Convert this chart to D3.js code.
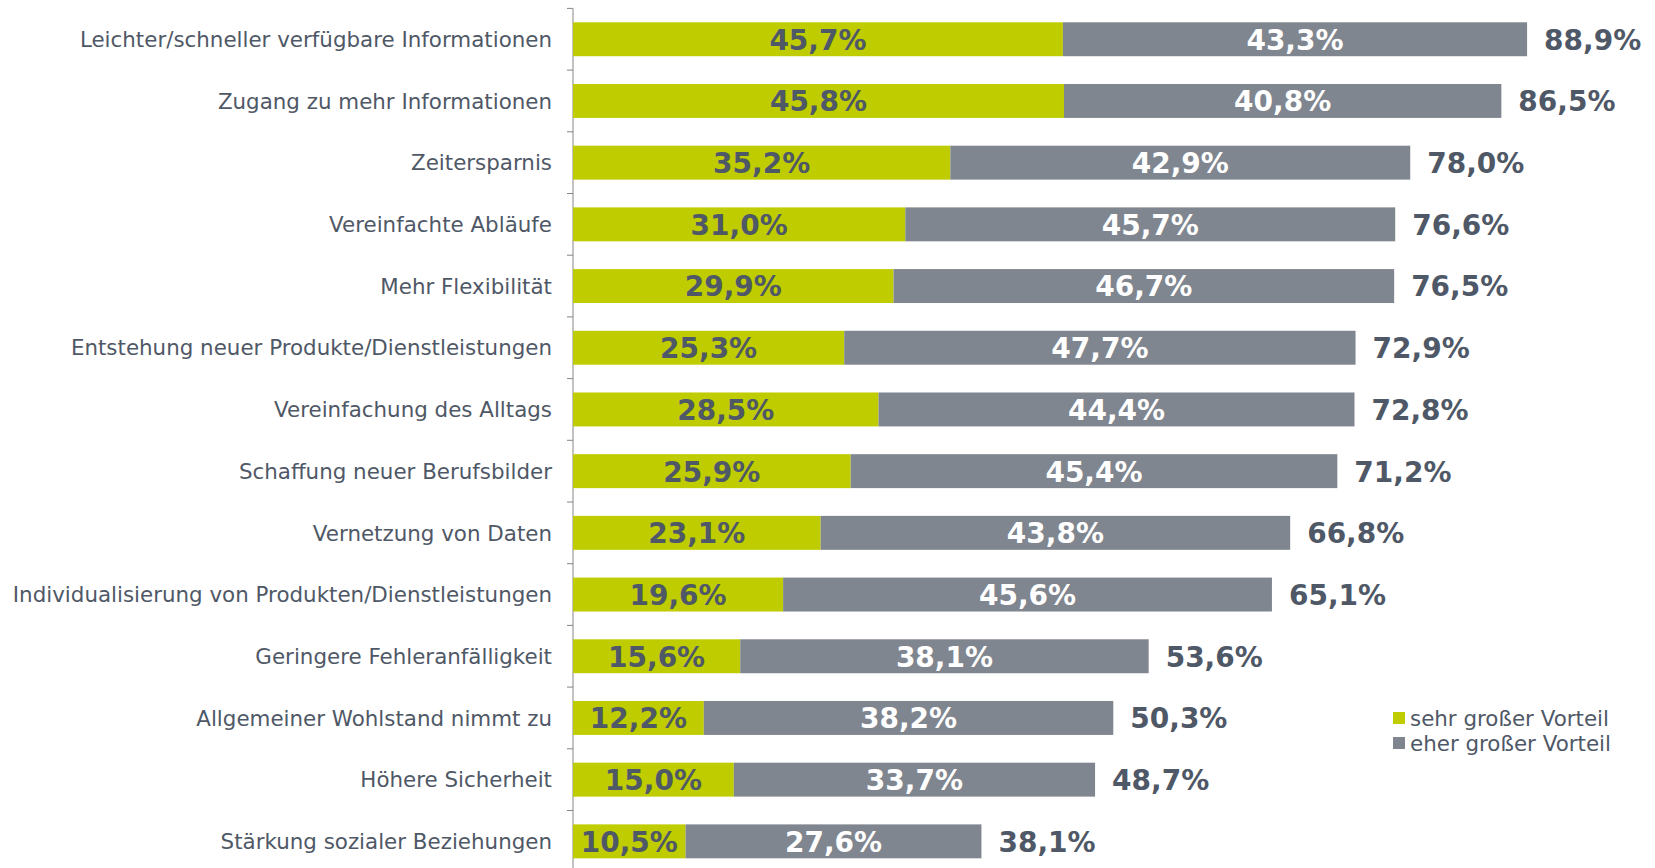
<!DOCTYPE html>
<html>
<head>
<meta charset="utf-8">
<script src="https://cdn.jsdelivr.net/npm/d3@7"></script>
<style>
  html, body { margin: 0; padding: 0; background: #fff; }
  svg { display: block; }
  text { font-family: "DejaVu Sans", Verdana, sans-serif; }
</style>
</head>
<body>
<svg id="chart" width="1655" height="868"></svg>
<script>
const categories = [
  "Leichter/schneller verfügbare Informationen",
  "Zugang zu mehr Informationen",
  "Zeitersparnis",
  "Vereinfachte Abläufe",
  "Mehr Flexibilität",
  "Entstehung neuer Produkte/Dienstleistungen",
  "Vereinfachung des Alltags",
  "Schaffung neuer Berufsbilder",
  "Vernetzung von Daten",
  "Individualisierung von Produkten/Dienstleistungen",
  "Geringere Fehleranfälligkeit",
  "Allgemeiner Wohlstand nimmt zu",
  "Höhere Sicherheit",
  "Stärkung sozialer Beziehungen"
];
const sehrGross = [45.7, 45.8, 35.2, 31.0, 29.9, 25.3, 28.5, 25.9, 23.1, 19.6, 15.6, 12.2, 15.0, 10.5];
const eherGross = [43.3, 40.8, 42.9, 45.7, 46.7, 47.7, 44.4, 45.4, 43.8, 45.6, 38.1, 38.2, 33.7, 27.6];
const totals    = [88.9, 86.5, 78.0, 76.6, 76.5, 72.9, 72.8, 71.2, 66.8, 65.1, 53.6, 50.3, 48.7, 38.1];
const seriesNames = ["sehr großer Vorteil", "eher großer Vorteil"];

const colGreen = "#bfcc00";
const colGrey = "#80868f";
const colText = "#4f5866";

const svg = d3.select("#chart");
const axisX = 573;

const x = d3.scaleLinear().domain([0, 100]).range([axisX, axisX + 1072]);
const y = d3.scaleBand().domain(categories).range([8.4, 872.2]).paddingInner(0.45).paddingOuter(0.225);

const fmt = v => d3.format(".1f")(v).replace(".", ",") + "%";

const rows = categories.map((c, i) => ({ c, a: sehrGross[i], b: eherGross[i], t: totals[i] }));

// axis line and ticks at band boundaries
svg.append("line").attr("x1", axisX).attr("x2", axisX).attr("y1", 8.4).attr("y2", 868)
  .attr("stroke", "#868686").attr("stroke-width", 1);
const step = y.step();
const bounds = categories.map(c => y(c) - y.paddingInner() * step / 2);
svg.selectAll(".tk").data(bounds).join("line")
  .attr("x1", axisX - 6).attr("x2", axisX).attr("y1", d => d).attr("y2", d => d)
  .attr("stroke", "#868686").attr("stroke-width", 1);

// bars
const g = svg.append("g");
g.selectAll(".barA").data(rows).join("rect")
  .attr("x", x(0)).attr("y", d => y(d.c))
  .attr("width", d => x(d.a) - x(0)).attr("height", y.bandwidth())
  .attr("fill", colGreen);
g.selectAll(".barB").data(rows).join("rect")
  .attr("x", d => x(d.a)).attr("y", d => y(d.c))
  .attr("width", d => x(d.a + d.b) - x(d.a)).attr("height", y.bandwidth())
  .attr("fill", colGrey);

const valSize = 28;
g.selectAll(".lA").data(rows).join("text")
  .attr("x", d => (x(0) + x(d.a)) / 2).attr("y", d => y(d.c) + y.bandwidth() / 2)
  .attr("dy", "0.37em").attr("text-anchor", "middle")
  .attr("font-size", valSize).attr("font-weight", "bold").attr("fill", colText)
  .text(d => fmt(d.a));
g.selectAll(".lB").data(rows).join("text")
  .attr("x", d => (x(d.a) + x(d.a + d.b)) / 2).attr("y", d => y(d.c) + y.bandwidth() / 2)
  .attr("dy", "0.37em").attr("text-anchor", "middle")
  .attr("font-size", valSize).attr("font-weight", "bold").attr("fill", "#ffffff")
  .text(d => fmt(d.b));
g.selectAll(".lT").data(rows).join("text")
  .attr("x", d => x(d.a + d.b) + 17).attr("y", d => y(d.c) + y.bandwidth() / 2)
  .attr("dy", "0.37em").attr("text-anchor", "start")
  .attr("font-size", valSize).attr("font-weight", "bold").attr("fill", colText)
  .text(d => fmt(d.t));

// category labels
svg.selectAll(".cat").data(rows).join("text")
  .attr("x", axisX - 21).attr("y", d => y(d.c) + y.bandwidth() / 2)
  .attr("dy", "0.36em").attr("text-anchor", "end")
  .attr("font-size", 21.4).attr("fill", colText)
  .text(d => d.c);

// legend
const leg = svg.append("g").attr("transform", "translate(1393,718)");
const legCols = [colGreen, colGrey];
seriesNames.forEach((n, i) => {
  leg.append("rect").attr("x", 0).attr("y", i * 25 - 6).attr("width", 12).attr("height", 12).attr("fill", legCols[i]);
  leg.append("text").attr("x", 17).attr("y", i * 25).attr("dy", "0.36em")
    .attr("font-size", 21.4).attr("fill", colText).text(n);
});
</script>
</body>
</html>
